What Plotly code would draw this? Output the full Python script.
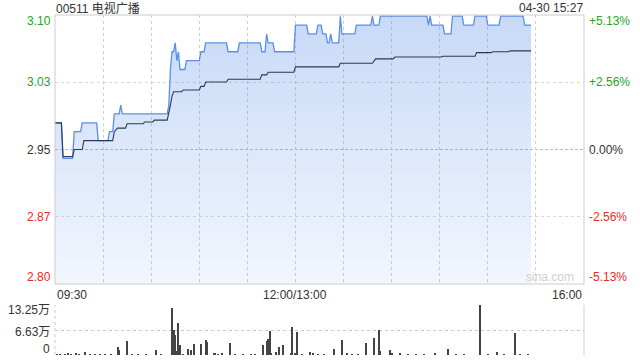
import plotly.graph_objects as go

# ---------------- data ----------------
title_text = "00511 电视广播"
stamp_text = "04-30 15:27"
prev_close = 2.95
pct_span = 0.0513

price_times = ["09:30","09:35","09:42","09:47","09:57","10:04","10:07","10:11","10:12","10:41",
               "10:42","10:43","10:45","10:46","10:47","10:48","10:52","11:01","11:04","11:18",
               "11:25","11:39","11:42","11:43","11:47","13:00","13:08","13:14","13:17","13:20",
               "13:22","13:23","13:28","13:29","13:38","13:48","13:49","13:53","14:23","14:24",
               "14:25","14:33","14:38","14:45","14:52","15:00","15:08","15:23","15:27"]
price_vals = [2.98, 2.94, 2.97, 2.98, 2.96, 2.97, 2.99, 3.00, 2.99, 3.00,
              3.04, 3.06, 3.07, 3.05, 3.06, 3.04, 3.05, 3.06, 3.07, 3.06,
              3.07, 3.06, 3.08, 3.07, 3.06, 3.09, 3.08, 3.09, 3.08, 3.07,
              3.08, 3.07, 3.10, 3.08, 3.09, 3.10, 3.09, 3.10, 3.09, 3.10,
              3.09, 3.08, 3.10, 3.09, 3.10, 3.09, 3.10, 3.09, 3.09]

avg_times = ["09:30","09:34","09:35","09:41","09:42","09:47","09:48","10:06","10:07","10:09",
             "10:14","10:15","10:25","10:26","10:31","10:32","10:40","10:41","10:42","10:43",
             "10:44","10:49","10:50","11:00","11:01","11:03","11:04","11:17","11:18","11:38",
             "11:39","11:42","11:43","11:59","13:00","13:27","13:28","13:48","13:50","14:01",
             "14:02","14:31","14:32","14:52","14:53","15:02","15:03","15:13","15:14","15:27"]
avg_vals = [2.980, 2.980, 2.942, 2.942, 2.950, 2.950, 2.960, 2.960, 2.970, 2.974,
            2.974, 2.979, 2.979, 2.981, 2.981, 2.983, 2.983, 2.990, 3.000, 3.010,
            3.015, 3.015, 3.017, 3.017, 3.021, 3.021, 3.026, 3.026, 3.029, 3.029,
            3.034, 3.034, 3.037, 3.037, 3.043, 3.043, 3.047, 3.047, 3.052, 3.052,
            3.054, 3.054, 3.055, 3.055, 3.059, 3.059, 3.060, 3.060, 3.061, 3.061]

vol_times = ["09:31","09:33","09:36","09:38","09:40","09:43","09:45","09:49","09:52","09:55",
             "09:58","10:01","10:05","10:09","10:10","10:15","10:18","10:22","10:27","10:33",
             "10:36","10:43","10:44","10:45","10:46","10:47","10:48","10:50","10:53","10:55",
             "10:57","11:01","11:04","11:05","11:09","11:10","11:12","11:14","11:19","11:22",
             "11:27","11:32","11:35","11:40","11:42","11:43","11:44","11:45","11:48","11:50",
             "11:52","11:57","11:58","13:00","13:01","13:04","13:09","13:11","13:14","13:18",
             "13:24","13:29","13:32","13:35","13:39","13:44","13:49","13:52","13:53","13:59",
             "14:00","14:05","14:10","14:15","14:20","14:27","14:35","14:40","14:45","14:55",
             "15:00","15:06","15:10","15:17","15:20","15:25"]
vol_vals = [2000, 1500, 2500, 6000, 2000, 6000, 1500, 9000, 2000, 1500,
            2500, 2000, 1500, 20000, 14000, 37000, 2000, 1500, 2500, 14000,
            2000, 125000, 66000, 53000, 11000, 84000, 26000, 2500, 15000, 12000,
            30000, 28000, 41000, 34000, 6000, 6000, 2000, 6000, 31000, 2000,
            1500, 2500, 2000, 26000, 37000, 43000, 64000, 6000, 8000, 20000,
            27000, 6000, 75000, 6000, 62000, 2000, 8000, 6000, 2000, 1500,
            15000, 41000, 6000, 2000, 2500, 31000, 46000, 66000, 11000, 12000,
            6000, 6000, 2000, 1500, 2000, 6000, 16000, 2000, 1500, 132000,
            2000, 9000, 2000, 59000, 1500, 2000]

vol_ticks = [0, 66250, 132500]
vol_tick_text = ["0", "6.63万", "13.25万"]
time_labels = ["09:30", "12:00/13:00", "16:00"]

# ---------------- helpers ----------------
def tpos(s):
    h, m = map(int, s.split(":"))
    mins = h * 60 + m
    if mins <= 12 * 60:
        return mins - (9 * 60 + 30)
    return mins - 13 * 60 + 150

def minute_steps(times, vals):
    # each level holds until one minute before the next change (minute-by-minute line)
    xs, ys = [], []
    for i, (t, v) in enumerate(zip(times, vals)):
        x = tpos(t)
        if i > 0 and x - 1 > xs[-1]:
            xs.append(x - 1)
            ys.append(vals[i - 1])
        xs.append(x)
        ys.append(v)
    return xs, ys

FONT = "Arial, 'Liberation Sans', 'Noto Sans CJK SC', sans-serif"
GREEN = "#1ea51e"
RED = "#f02828"
DARK = "#333333"

lo = prev_close * (1 - pct_span)
hi = prev_close * (1 + pct_span)

px_, py_ = minute_steps(price_times, price_vals)

fig = go.Figure()

fig.add_trace(go.Scatter(
    x=px_, y=py_, mode="lines",
    line=dict(color="#5a8fe8", width=1.3),
    fill="tozeroy",
    fillgradient=dict(type="vertical", start=lo, stop=hi,
                      colorscale=[[0, "rgba(70,130,230,0.07)"], [1, "rgba(70,130,230,0.30)"]]),
    hoverinfo="skip", xaxis="x", yaxis="y"))

fig.add_trace(go.Scatter(
    x=[tpos(t) for t in avg_times], y=avg_vals, mode="lines",
    line=dict(color="#2e3a4c", width=1.1),
    hoverinfo="skip", xaxis="x", yaxis="y"))

fig.add_trace(go.Bar(
    x=[tpos(t) for t in vol_times], y=vol_vals, width=0.65,
    marker=dict(color="#444444", line=dict(width=0)),
    hoverinfo="skip", xaxis="x2", yaxis="y2"))

main_dom = [71 / 340, 1.0]
vol_dom = [0.0, 50 / 340]

fig.update_layout(
    width=640, height=360,
    margin=dict(l=55, r=56, t=15, b=5),
    paper_bgcolor="white", plot_bgcolor="rgba(0,0,0,0)",
    showlegend=False, bargap=0,
    font=dict(family=FONT, size=12, color=DARK),
    xaxis=dict(range=[0, 330], domain=[0, 1], tickvals=list(range(30, 330, 30)),
               showticklabels=False, showgrid=True, gridcolor="#cfcfcf", griddash="dot",
               gridwidth=1, zeroline=False, showline=False, anchor="y"),
    yaxis=dict(range=[lo, hi], domain=main_dom, tickvals=[prev_close * (1 + pct_span / 2),
               prev_close * (1 - pct_span / 2)], showticklabels=False, showgrid=True,
               gridcolor="#d8d8d8", griddash="dot", zeroline=False, showline=False),
    xaxis2=dict(range=[0, 330], domain=[0, 1], anchor="y2", showticklabels=False,
                showgrid=False, zeroline=False, showline=False),
    yaxis2=dict(range=[0, 132500], domain=vol_dom, tickvals=vol_ticks, showticklabels=False,
                showgrid=True, gridcolor="#c8c8c8", griddash="dot", zeroline=False, showline=False),
)

shapes = []
shapes.append(dict(type="rect", xref="paper", yref="paper", x0=0, x1=1, y0=main_dom[0], y1=1,
                   line=dict(color="#cccccc", width=1), layer="above"))
shapes.append(dict(type="line", xref="paper", yref="y", x0=0, x1=1, y0=prev_close, y1=prev_close,
                   line=dict(color="#bbbbbb", width=1, dash="3px,2px"), layer="below"))
shapes.append(dict(type="line", xref="paper", yref="paper", x0=1, x1=1, y0=vol_dom[0], y1=vol_dom[1],
                   line=dict(color="#cccccc", width=1)))
shapes.append(dict(type="line", xref="paper", yref="paper", x0=0, x1=0, y0=vol_dom[0], y1=vol_dom[1],
                   line=dict(color="#cccccc", width=1, dash="dot")))
fig.update_layout(shapes=shapes)

ann = []
ann.append(dict(text=title_text, xref="paper", yref="paper", x=0, y=1, xanchor="left", yanchor="middle",
                yshift=7, borderpad=0, showarrow=False, font=dict(size=12, color=DARK)))
ann.append(dict(text=stamp_text, xref="paper", yref="paper", x=1, y=1, xanchor="right", yanchor="middle",
                yshift=7, borderpad=0, showarrow=False, font=dict(size=12, color=DARK)))

levels = [hi, prev_close * (1 + pct_span / 2), prev_close, prev_close * (1 - pct_span / 2), lo]
pct_vals = [pct_span, pct_span / 2, 0.0, -pct_span / 2, -pct_span]
shifts = [-6, 0, 0, 0, 7]
for lv, pv, sh in zip(levels, pct_vals, shifts):
    col = GREEN if pv > 0 else (RED if pv < 0 else DARK)
    ann.append(dict(text=f"{lv:.2f}", xref="paper", yref="y", x=0, y=lv, xanchor="right",
                    yanchor="middle", xshift=-2, yshift=sh, showarrow=False,
                    font=dict(size=12, color=col)))
    ptxt = f"{pv*100:+.2f}%" if pv != 0 else "0.00%"
    ann.append(dict(text=ptxt, xref="paper", yref="y", x=1, y=lv, xanchor="left",
                    yanchor="middle", xshift=3, yshift=sh, showarrow=False,
                    font=dict(size=12, color=col)))

ann.append(dict(text=time_labels[0], xref="x", yref="paper", x=0, y=main_dom[0], xanchor="left",
                yanchor="top", yshift=-2, showarrow=False, font=dict(size=12, color=DARK)))
ann.append(dict(text=time_labels[1], xref="x", yref="paper", x=150, y=main_dom[0], xanchor="center",
                yanchor="top", yshift=-2, showarrow=False, font=dict(size=12, color=DARK)))
ann.append(dict(text=time_labels[2], xref="x", yref="paper", x=330, y=main_dom[0], xanchor="right",
                yanchor="top", yshift=-2, showarrow=False, font=dict(size=12, color=DARK)))

vshift = [6, -2, -5]
for v, t, sh in zip(vol_ticks, vol_tick_text, vshift):
    ann.append(dict(text=t, xref="paper", yref="y2", x=0, y=v, xanchor="right", yanchor="middle",
                    xshift=-3, yshift=sh, showarrow=False, font=dict(size=12, color=DARK)))

ann.append(dict(text="sina.com", xref="paper", yref="y", x=1, y=lo, xanchor="right", yanchor="middle",
                xshift=-8, yshift=7, showarrow=False, font=dict(size=12, color="#cfcfcf")))

fig.update_layout(annotations=ann)

fig.write_html("out.html")
